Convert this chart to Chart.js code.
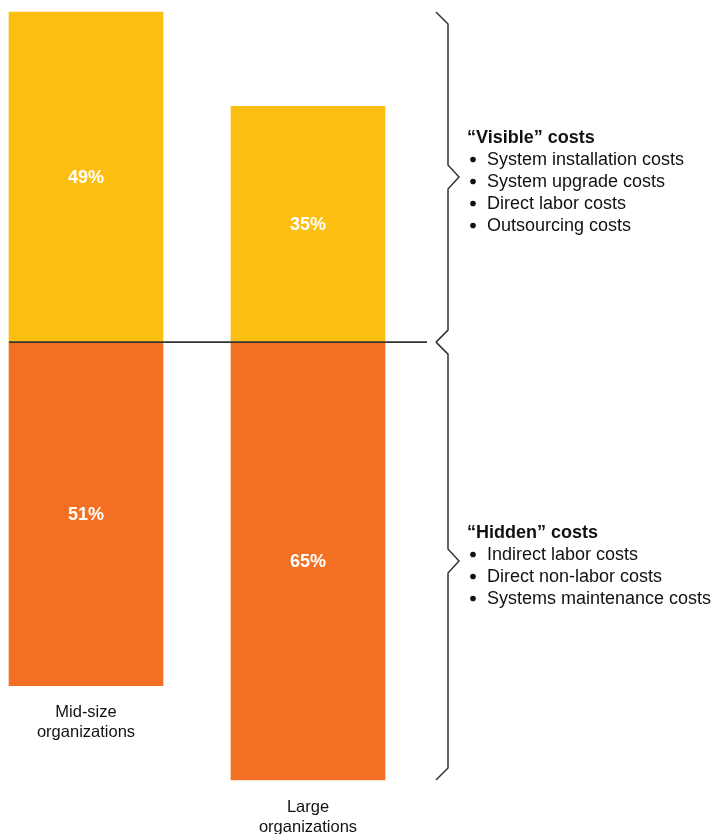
<!DOCTYPE html>
<html>
<head>
<meta charset="utf-8">
<script src="https://cdn.jsdelivr.net/npm/chart.js@4.4.1/dist/chart.umd.min.js"></script>
<style>
html,body{margin:0;padding:0;background:#fff;}
#wrap{width:714px;height:834px;}
</style>
</head>
<body>
<div id="wrap"><canvas id="c" width="714" height="834"></canvas></div>
<script>
const categories = [["Mid-size", "organizations"], ["Large", "organizations"]];
const visibleShare = [49, 35];
const hiddenShare = [51, 65];
const visibleTitle = "\u201CVisible\u201D costs";
const visibleItems = ["System installation costs", "System upgrade costs", "Direct labor costs", "Outsourcing costs"];
const hiddenTitle = "\u201CHidden\u201D costs";
const hiddenItems = ["Indirect labor costs", "Direct non-labor costs", "Systems maintenance costs"];

const FONT = "'Liberation Sans', Arial, Helvetica, sans-serif";
const YELLOW = "#FDBE12";
const ORANGE = "#F37022";
const INK = "#111111";

const decor = {
  id: 'decor',
  afterDatasetsDraw(chart) {
    const ctx = chart.ctx;
    const y = chart.scales.y;
    const metaV = chart.getDatasetMeta(0);
    const metaH = chart.getDatasetMeta(1);
    const zeroY = y.getPixelForValue(0);
    const firstBar = metaV.data[0];
    const lastBar = metaV.data[metaV.data.length - 1];
    const braceX = lastBar.x + lastBar.width / 2 + 51;

    // value labels
    ctx.save();
    ctx.fillStyle = "#ffffff";
    ctx.font = "bold 18px " + FONT;
    ctx.textAlign = "center";
    ctx.textBaseline = "middle";
    metaV.data.forEach((b, i) => ctx.fillText(visibleShare[i] + "%", b.x, (b.y + b.base) / 2 + 1));
    metaH.data.forEach((b, i) => ctx.fillText(hiddenShare[i] + "%", b.x, (b.y + b.base) / 2 + 1));

    // category labels below bars
    ctx.fillStyle = INK;
    ctx.font = "16.5px " + FONT;
    metaH.data.forEach((b, i) => {
      categories[i].forEach((line, k) => ctx.fillText(line, b.x, b.y + 27 + k * 20));
    });

    // baseline
    ctx.strokeStyle = "#333333";
    ctx.lineWidth = 1.6;
    ctx.beginPath();
    ctx.moveTo(firstBar.x - firstBar.width / 2, zeroY);
    ctx.lineTo(braceX - 9, zeroY);
    ctx.stroke();

    // braces
    const topY = y.getPixelForValue(Math.max(...visibleShare));
    const botY = y.getPixelForValue(-Math.max(...hiddenShare));
    function brace(y0, y1) {
      const tip = (y0 + y1) / 2;
      const vx = braceX + 12;
      ctx.beginPath();
      ctx.moveTo(braceX, y0);
      ctx.lineTo(vx, y0 + 12);
      ctx.lineTo(vx, tip - 12);
      ctx.lineTo(vx + 11, tip);
      ctx.lineTo(vx, tip + 12);
      ctx.lineTo(vx, y1 - 12);
      ctx.lineTo(braceX, y1);
      ctx.stroke();
      return tip;
    }
    ctx.lineWidth = 1.5;
    const tipV = brace(topY, zeroY);
    const tipH = brace(zeroY, botY);

    // text blocks
    function block(tip, title, items) {
      const lh = 22;
      const n = items.length + 1;
      const start = tip + 4.5 - (n - 1) * lh / 2;
      const tx = braceX + 31;
      ctx.textAlign = "left";
      ctx.textBaseline = "middle";
      ctx.fillStyle = INK;
      ctx.font = "bold 18px " + FONT;
      ctx.fillText(title, tx, start);
      ctx.font = "18px " + FONT;
      items.forEach((t, i) => {
        const yy = start + (i + 1) * lh;
        ctx.beginPath();
        ctx.arc(tx + 6, yy, 2.8, 0, Math.PI * 2);
        ctx.fill();
        ctx.fillText(t, tx + 20, yy);
      });
    }
    block(tipV, visibleTitle, visibleItems);
    block(tipH, hiddenTitle, hiddenItems);
    ctx.restore();
  }
};

new Chart(document.getElementById('c'), {
  type: 'bar',
  data: {
    labels: categories.map(c => c.join(' ')),
    datasets: [
      { label: 'Visible', data: visibleShare, backgroundColor: YELLOW, borderWidth: 0 },
      { label: 'Hidden', data: hiddenShare.map(v => -v), backgroundColor: ORANGE, borderWidth: 0 }
    ]
  },
  options: {
    responsive: false,
    animation: false,
    devicePixelRatio: 1,
    layout: { padding: { left: 86, right: 406, top: 12, bottom: 54 } },
    datasets: { bar: { barThickness: 154, clip: false } },
    plugins: { legend: { display: false }, tooltip: { enabled: false } },
    scales: {
      x: { type: 'category', offset: false, stacked: true, display: false },
      y: { stacked: true, min: -65, max: 49, display: false }
    }
  },
  plugins: [decor]
});
</script>
</body>
</html>
